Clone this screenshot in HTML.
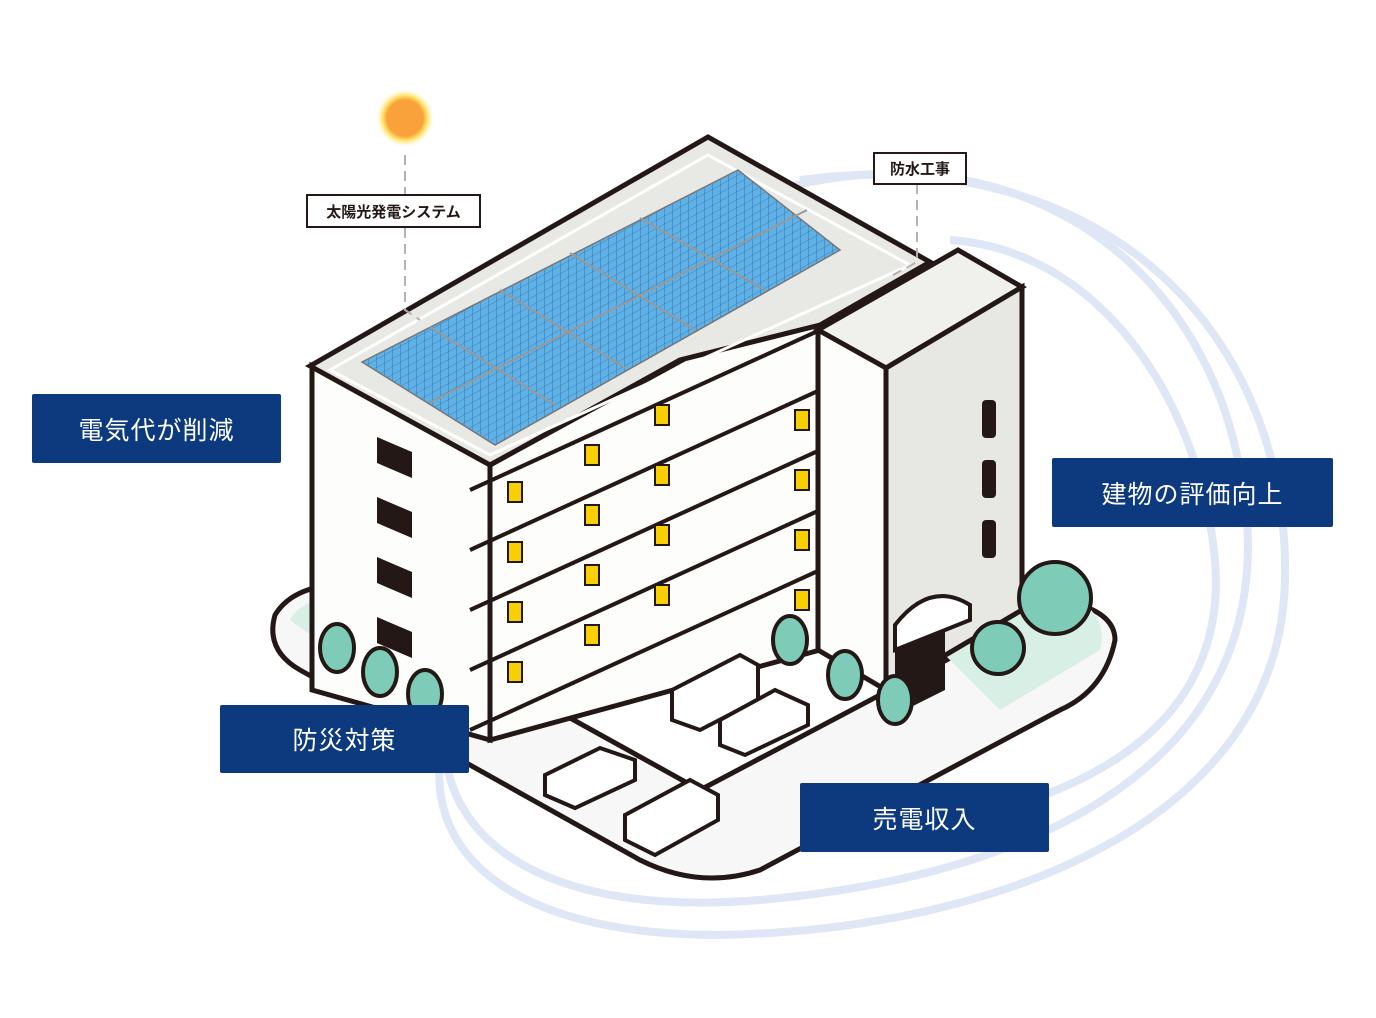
<!DOCTYPE html>
<html><head><meta charset="utf-8"><style>
body{margin:0;background:#fff;width:1376px;height:1018px;overflow:hidden;font-family:"Liberation Sans","Noto Sans CJK JP",sans-serif}
.b{position:absolute;background:#0d3a7e;color:#fff;font-size:25px;display:flex;align-items:center;justify-content:center;border-radius:2px;letter-spacing:1px}
.w{position:absolute;background:#fff;border:2px solid #231815;font-size:15px;font-weight:bold;display:flex;align-items:center;justify-content:center;color:#231815}
</style></head><body>
<svg width="1376" height="1018" style="position:absolute;left:0;top:0">
<defs>
<pattern id="g" width="8" height="8" patternUnits="userSpaceOnUse" patternTransform="skewY(-29)">
<rect width="8" height="8" fill="#5fb1e6"/><path d="M0 0H8M0 0V8" stroke="#2f6aa8" stroke-width="0.8"/></pattern>
<radialGradient id="sun"><stop offset="0.6" stop-color="#f9a23c"/><stop offset="0.75" stop-color="#ffe46a"/><stop offset="1" stop-color="#fff" stop-opacity="0"/></radialGradient>
</defs>
<g fill="none" stroke="#dfe6f5" stroke-width="8">
<path d="M760 195 C1000 120 1200 250 1240 470 C1290 720 1100 870 760 900 C520 920 420 820 450 700"/>
<path d="M800 180 C1100 140 1290 330 1285 580 C1280 820 1000 930 720 935 C520 935 430 860 440 760"/>
<path d="M950 240 C1100 250 1200 400 1215 560 C1230 740 1060 820 840 835"/>
</g>
<path d="M330 585 L700 790 L1060 600 Q1115 610 1115 640 Q1105 690 1060 710 L760 870 Q700 890 640 860 L300 670 Q265 650 275 615 Q290 590 330 585Z" fill="#f7f7f7" stroke="#231815" stroke-width="5"/>
<path d="M290 620 Q300 600 330 600 L440 660 L400 700 Z" fill="#d8efe6"/>
<path d="M930 640 L1060 590 Q1110 610 1100 650 L1000 710 Z" fill="#d8efe6"/>
<!-- main left wall -->
<polygon points="312,366 490,465 490,740 312,690" fill="#fdfdfb" stroke="#231815" stroke-width="5"/>
<!-- right face -->
<polygon points="490,465 820,285 820,650 490,740" fill="#fdfdfb" stroke="#231815" stroke-width="5"/>
<g stroke="#231815" stroke-width="4">
<line x1="470" y1="490" x2="820" y2="330"/><line x1="470" y1="550" x2="820" y2="390"/>
<line x1="470" y1="610" x2="820" y2="450"/><line x1="470" y1="670" x2="820" y2="510"/>
<line x1="470" y1="730" x2="820" y2="570"/>
</g>
<g fill="#f8cf00" stroke="#231815" stroke-width="2">
<rect x="508" y="482" width="14" height="20"/><rect x="585" y="445" width="14" height="20"/><rect x="655" y="405" width="14" height="20"/>
<rect x="508" y="542" width="14" height="20"/><rect x="585" y="505" width="14" height="20"/><rect x="655" y="465" width="14" height="20"/>
<rect x="508" y="602" width="14" height="20"/><rect x="585" y="565" width="14" height="20"/><rect x="655" y="525" width="14" height="20"/>
<rect x="508" y="662" width="14" height="20"/><rect x="585" y="625" width="14" height="20"/><rect x="655" y="585" width="14" height="20"/>
<rect x="795" y="410" width="14" height="20"/><rect x="795" y="470" width="14" height="20"/><rect x="795" y="530" width="14" height="20"/><rect x="795" y="590" width="14" height="20"/>
</g>
<g fill="#231815">
<path d="M377 437 L412 452 L412 478 L377 463Z"/><path d="M377 497 L412 512 L412 538 L377 523Z"/><path d="M377 557 L412 572 L412 598 L377 583Z"/><path d="M377 617 L412 632 L412 658 L377 643Z"/>
</g>
<!-- roof -->
<polygon points="310,366 708,137 930,262 820,325 680,360 490,465" fill="#e8e8e5" stroke="#231815" stroke-width="5"/>
<polygon points="330,370 708,155 910,265 490,455" fill="none" stroke="#fff" stroke-width="3"/>
<polygon points="362,362 738,170 840,250 495,445" fill="url(#g)" stroke="#777" stroke-width="1.5"/>
<g stroke="#999" stroke-width="2"><line x1="431" y1="402" x2="807" y2="210"/><line x1="430" y1="327" x2="555" y2="405"/><line x1="500" y1="290" x2="625" y2="368"/><line x1="570" y1="253" x2="695" y2="330"/><line x1="640" y1="218" x2="765" y2="290"/></g>
<!-- tower -->
<polygon points="818,330 958,250 1022,287 886,368" fill="#f0f0ed" stroke="#231815" stroke-width="5"/>
<polygon points="818,330 886,368 886,690 818,650" fill="#fdfdfb" stroke="#231815" stroke-width="5"/>
<polygon points="886,368 1022,287 1022,610 886,690" fill="#e7e7e3" stroke="#231815" stroke-width="5"/>
<g fill="#231815"><rect x="982" y="400" width="14" height="38" rx="4"/><rect x="982" y="460" width="14" height="38" rx="4"/><rect x="982" y="520" width="14" height="38" rx="4"/></g>
<path d="M895 640 L945 610 L945 690 L895 715Z" fill="#231815"/>
<path d="M895 625 Q930 580 970 605 L970 620 L895 650Z" fill="#fff" stroke="#231815" stroke-width="4"/>
<!-- trees -->
<g fill="#7ecbb7" stroke="#231815" stroke-width="4">
<ellipse cx="337" cy="648" rx="17" ry="24"/><ellipse cx="380" cy="672" rx="17" ry="24"/><ellipse cx="425" cy="694" rx="17" ry="24"/>
<ellipse cx="790" cy="640" rx="17" ry="24"/><ellipse cx="845" cy="675" rx="17" ry="24"/><ellipse cx="895" cy="700" rx="17" ry="24"/>
<circle cx="998" cy="648" r="26"/><circle cx="1055" cy="598" r="36"/>
</g>
<!-- cars -->
<g fill="#fff" stroke="#231815" stroke-width="4">
<path d="M672 690 L740 655 L758 665 L758 700 L700 730 L672 720Z"/>
<path d="M720 720 L775 690 L808 705 L808 725 L745 755 L720 745Z"/>
<path d="M545 775 L600 748 L635 760 L635 780 L575 808 L545 795Z"/>
<path d="M625 815 L690 780 L718 795 L718 820 L655 855 L625 840Z"/>
</g>
<!-- leaders -->
<g stroke="#b9aeb0" stroke-width="2" stroke-dasharray="10 6" fill="none">
<line x1="405" y1="155" x2="405" y2="194"/><path d="M405 228 L405 310 L420 320"/>
<path d="M917 184 L917 262 L893 275"/>
</g>
<circle cx="405" cy="118" r="30" fill="url(#sun)"/>
</svg>
<div class="w" style="left:306px;top:194px;width:171px;height:30px">太陽光発電システム</div>
<div class="w" style="left:873px;top:152px;width:90px;height:29px">防水工事</div>
<div class="b" style="left:32px;top:394px;width:249px;height:69px">電気代が削減</div>
<div class="b" style="left:1052px;top:458px;width:281px;height:69px">建物の評価向上</div>
<div class="b" style="left:220px;top:705px;width:249px;height:68px">防災対策</div>
<div class="b" style="left:800px;top:783px;width:249px;height:69px">売電収入</div>
</body></html>
